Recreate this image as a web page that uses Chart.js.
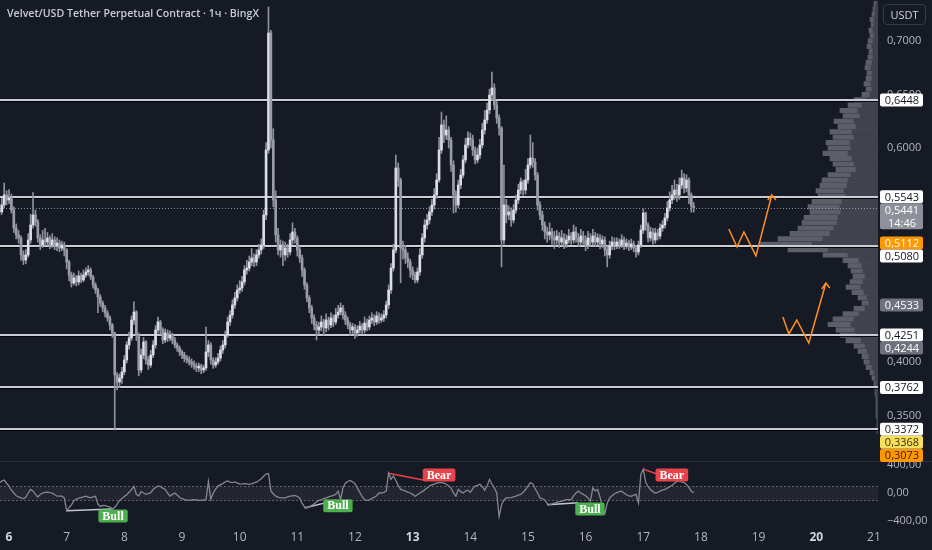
<!DOCTYPE html>
<html lang="ru">
<head>
<meta charset="utf-8">
<title>Velvet/USD Tether Perpetual Contract · 1ч · BingX</title>
<script src="https://cdn.jsdelivr.net/npm/chart.js@4.4.1/dist/chart.umd.min.js"></script>
<style>
  html, body { margin: 0; padding: 0; background: #161a25; }
  #wrap { position: relative; width: 932px; height: 550px; overflow: hidden; background: #161a25; }
  canvas { position: absolute; }
  #profile { left: 740px; top: 0; z-index: 1; }
  #osc { left: 0; top: 450px; z-index: 2; }
  #price { left: 0; top: 0; z-index: 3; }
  #title { position: absolute; left: 7px; top: 6px; z-index: 4; font: 600 10.6px 'Open Sans', sans-serif; color: #c9ccd4; white-space: nowrap; }
  #unit { position: absolute; left: 883px; top: 4px; width: 41px; height: 19px; border: 1px solid #363a45; border-radius: 4px;
          color: #d1d4dc; font: 11px 'Open Sans', sans-serif; line-height: 19px; text-align: center; z-index: 4; }
</style>
</head>
<body>
<div id="wrap">
  <canvas id="profile" width="138" height="462"></canvas>
  <canvas id="osc" width="932" height="100"></canvas>
  <canvas id="price" width="932" height="462"></canvas>
  <div id="title">Velvet/USD Tether Perpetual Contract · 1ч · BingX</div>
  <div id="unit">USDT</div>
</div>
<script>
Chart.defaults.font.family = "'Open Sans', 'DejaVu Sans', sans-serif";
Chart.defaults.animation = false;

// hourly candles, hour 0 = day 6 00:00
const firstHour = -4;
const firstOpen = 0.5420;
const closes = [
  .5402,.5467,.5561,.5514,.5533,.5420,.5252,.5187,.5159,.5000,.4953,.5000,
  .5140,.5280,.5374,.5308,.5159,.5093,.5140,.5121,.5159,.5093,.5140,.5084,
  .5112,.5065,.5093,.5047,.4934,.4813,.4738,.4785,.4748,.4804,.4766,.4813,
  .4841,.4860,.4794,.4719,.4673,.4607,.4551,.4505,.4458,.4411,.4346,.4271,
  .3879,.3813,.3850,.3907,.4019,.4159,.4224,.4392,.4467,.4252,.3925,.4065,
  .4187,.4019,.3972,.4065,.4159,.4299,.4374,.4299,.4205,.4271,.4224,.4252,
  .4205,.4159,.4131,.4093,.4065,.4037,.4019,.4000,.3981,.3962,.3944,.3962,
  .3925,.3944,.4093,.4159,.4019,.3972,.4000,.4037,.4112,.4159,.4252,.4374,
  .4439,.4533,.4598,.4673,.4691,.4748,.4860,.4878,.4934,.4972,.4934,.5000,
  .5047,.5093,.5374,.5981,.7075,.6075,.5514,.5187,.5047,.5093,.5000,.5065,
  .5028,.5140,.5215,.5159,.5047,.4972,.4860,.4719,.4598,.4505,.4411,.4346,
  .4299,.4327,.4374,.4318,.4392,.4346,.4411,.4374,.4439,.4467,.4505,.4439,
  .4392,.4346,.4299,.4327,.4271,.4299,.4336,.4299,.4364,.4327,.4392,.4411,
  .4374,.4430,.4392,.4411,.4439,.4533,.4673,.4878,.5047,.5813,.5700,.5065,
  .5047,.4972,.4934,.4860,.4813,.4766,.4841,.5000,.5159,.5280,.5327,.5402,
  .5467,.5561,.5701,.5981,.6215,.6121,.6168,.6075,.5841,.5561,.5467,.5654,
  .5747,.5888,.6028,.6093,.6075,.5981,.5888,.5934,.6028,.6168,.6262,.6355,
  .6495,.6561,.6402,.6280,.6187,.5140,.5467,.5374,.5402,.5327,.5420,.5514,
  .5607,.5682,.5607,.5701,.5841,.5906,.5869,.5747,.5467,.5374,.5280,.5215,
  .5187,.5215,.5159,.5140,.5177,.5121,.5159,.5103,.5140,.5177,.5140,.5215,
  .5159,.5121,.5177,.5140,.5093,.5159,.5121,.5177,.5121,.5159,.5103,.5140,
  .5047,.5000,.5084,.5121,.5084,.5121,.5093,.5140,.5084,.5112,.5075,.5103,
  .5065,.5028,.5093,.5233,.5392,.5280,.5159,.5215,.5140,.5205,.5177,.5252,
  .5280,.5346,.5439,.5514,.5561,.5607,.5561,.5654,.5719,.5626,.5701,.5561,
  .5458,.5441
];
const highs = [
  .5480,.5530,.5673,.5600,.5610,.5570,.5450,.5290,.5230,.5180,.5040,.5050,
  .5200,.5380,.5584,.5420,.5330,.5190,.5230,.5250,.5210,.5180,.5200,.5170,
  .5160,.5140,.5130,.5120,.5060,.4950,.4840,.4830,.4810,.4850,.4830,.4860,
  .4880,.4900,.4880,.4810,.4740,.4690,.4630,.4570,.4530,.4480,.4430,.4360,
  .4280,.3900,.3890,.3950,.4060,.4190,.4280,.4430,.4561,.4480,.4270,.4120,
  .4230,.4200,.4050,.4110,.4200,.4340,.4420,.4390,.4320,.4310,.4300,.4290,
  .4270,.4230,.4180,.4150,.4110,.4090,.4060,.4050,.4030,.4010,.3990,.3990,
  .3980,.3970,.4327,.4200,.4180,.4040,.4040,.4080,.4150,.4200,.4290,.4420,
  .4480,.4580,.4650,.4720,.4760,.4800,.4900,.4950,.4990,.5060,.5010,.5050,
  .5100,.5150,.5420,.6050,.7318,.7100,.6180,.5600,.5250,.5140,.5130,.5120,
  .5100,.5200,.5300,.5250,.5180,.5080,.5000,.4880,.4740,.4620,.4530,.4440,
  .4380,.4370,.4430,.4400,.4450,.4420,.4460,.4440,.4500,.4530,.4551,.4530,
  .4470,.4420,.4370,.4360,.4350,.4340,.4380,.4360,.4420,.4400,.4430,.4460,
  .4440,.4470,.4460,.4450,.4480,.4570,.4720,.4920,.5100,.5934,.5860,.5720,
  .5130,.5090,.5020,.4960,.4890,.4840,.4880,.5060,.5200,.5330,.5380,.5450,
  .5520,.5620,.5760,.6100,.6336,.6260,.6300,.6200,.6100,.5880,.5600,.5700,
  .5800,.5930,.6090,.6150,.6140,.6120,.6010,.6000,.6080,.6230,.6350,.6420,
  .6550,.6710,.6600,.6440,.6310,.6200,.5841,.5520,.5460,.5440,.5470,.5560,
  .5660,.5720,.5700,.5800,.5900,.6121,.6050,.5900,.5770,.5500,.5410,.5310,
  .5260,.5300,.5250,.5220,.5230,.5210,.5230,.5200,.5190,.5240,.5210,.5280,
  .5260,.5200,.5240,.5220,.5180,.5220,.5200,.5240,.5210,.5200,.5190,.5180,
  .5170,.5080,.5130,.5170,.5160,.5160,.5150,.5190,.5170,.5150,.5140,.5150,
  .5130,.5090,.5130,.5280,.5430,.5400,.5300,.5260,.5250,.5250,.5240,.5290,
  .5320,.5390,.5500,.5590,.5650,.5700,.5660,.5720,.5794,.5760,.5750,.5720,
  .5580,.5490
];
const lows = [
  .5360,.5380,.5440,.5470,.5480,.5390,.5210,.5150,.5110,.4950,.4910,.4920,
  .4980,.5110,.5250,.5270,.5120,.5050,.5070,.5090,.5090,.5060,.5070,.5050,
  .5040,.5030,.5040,.4990,.4870,.4760,.4700,.4720,.4710,.4720,.4740,.4750,
  .4790,.4810,.4770,.4690,.4640,.4460,.4520,.4470,.4420,.4380,.4300,.4230,
  .3364,.3738,.3760,.3800,.3880,.3990,.4120,.4200,.4350,.4200,.3870,.3900,
  .4030,.3980,.3930,.3950,.4040,.4130,.4270,.4260,.4170,.4180,.4190,.4200,
  .4170,.4130,.4100,.4060,.4030,.4000,.3990,.3970,.3950,.3930,.3910,.3910,
  .3890,.3900,.3920,.4050,.3980,.3940,.3950,.3980,.4010,.4080,.4130,.4230,
  .4340,.4410,.4500,.4570,.4640,.4660,.4720,.4820,.4850,.4900,.4890,.4900,
  .4970,.5010,.5060,.5330,.5950,.6000,.5450,.5120,.5000,.4980,.4900,.4950,
  .4980,.5000,.5100,.5110,.4990,.4930,.4800,.4680,.4560,.4460,.4360,.4300,
  .4205,.4260,.4290,.4250,.4280,.4300,.4320,.4330,.4350,.4410,.4440,.4400,
  .4350,.4310,.4250,.4260,.4220,.4240,.4270,.4260,.4270,.4290,.4300,.4360,
  .4340,.4350,.4360,.4370,.4380,.4410,.4500,.4640,.4850,.5020,.5640,.4740,
  .4960,.4920,.4880,.4790,.4770,.4738,.4740,.4810,.4970,.5120,.5240,.5290,
  .5370,.5430,.5530,.5680,.5950,.6050,.6080,.6000,.5780,.5392,.5400,.5440,
  .5620,.5720,.5860,.6000,.6020,.5930,.5850,.5860,.5900,.6000,.6130,.6230,
  .6320,.6450,.6360,.6230,.6120,.4888,.5100,.5300,.5330,.5270,.5300,.5390,
  .5480,.5570,.5560,.5570,.5670,.5810,.5820,.5700,.5420,.5330,.5230,.5150,
  .5120,.5140,.5100,.5060,.5100,.5070,.5090,.5060,.5070,.5110,.5100,.5110,
  .5120,.5080,.5090,.5100,.5040,.5060,.5080,.5090,.5080,.5090,.5060,.5070,
  .4990,.4888,.4970,.5050,.5050,.5060,.5060,.5070,.5050,.5060,.5040,.5050,
  .5030,.4980,.5000,.5070,.5200,.5230,.5120,.5130,.5100,.5110,.5140,.5150,
  .5220,.5250,.5320,.5410,.5480,.5520,.5500,.5520,.5620,.5580,.5590,.5480,
  .5400,.5400
];
const oscValues = [
  150,170,186,140,99,40,0,-40,-55,-70,-80,-60,
  0,51,26,-20,-58,-20,0,8,12,5,0,-25,
  -46,-46,-46,-70,-255,-210,-170,-110,-90,-75,-65,-55,
  -46,-60,-68,-55,-46,-160,-192,-178,-180,-192,-200,-230,
  -205,-160,-105,-80,-50,-25,10,50,95,-20,-40,20,
  0,-20,-10,5,50,78,99,95,70,51,0,-46,
  -20,0,-30,-65,-80,-95,-100,-105,-100,-95,-100,-105,
  -105,-100,-95,167,-90,0,55,99,120,135,160,172,
  155,150,160,145,128,130,133,130,125,130,145,155,
  180,205,240,272,280,30,-10,-46,-60,-70,-70,-70,
  -55,-46,-40,-35,-50,-70,-150,-200,-211,-195,-180,-155,
  -130,-105,-95,-80,-70,-55,-46,-35,-20,26,-95,75,
  140,165,181,160,133,70,10,-50,-100,-105,-98,-80,
  -60,-40,0,0,10,26,284,196,245,180,110,51,
  40,26,12,0,-20,-46,-25,0,20,45,70,100,
  115,128,140,150,150,140,125,100,70,0,-46,51,
  20,0,26,40,10,60,99,110,125,90,40,100,
  196,125,75,0,-337,-170,-100,-70,-70,-65,-55,-45,
  -30,-20,10,50,99,150,130,60,0,-70,-85,-100,
  -150,-165,-155,-145,-135,-125,-120,-105,-95,-95,-95,-40,
  0,26,0,-20,-40,-70,-120,75,30,51,-60,-200,
  -300,-145,-70,-40,-10,5,20,26,0,-25,-40,-46,
  -30,-20,-145,269,342,153,90,51,20,0,10,26,
  40,51,70,90,110,140,165,172,160,150,120,80,
  26,5
];

const dayTicks = [6, 7, 8, 9, 10, 11, 12, 13, 14, 15, 16, 17, 18, 19, 20, 21];
const boldDays = [6, 13, 20];
const priceTicks = [0.70, 0.65, 0.60, 0.40, 0.35];
const oscTicks = [-400, 0, 400];
const oscBand = [-100, 100];
const levels = [0.6448, 0.5543, 0.5080, 0.4251, 0.3762, 0.3372];
const lastPrice = 0.5441;
const lastTime = '14:46';

// volume profile bins, 0.735 down to 0.335
const profileTop = 0.735;
const profileStep = 0.005;
const profileTotal = [
  4,5,6,8,7,9,8,10,11,9, 10,12,13,11,12,14,12,16,24,30,
  38,35,44,40,48,45,52,50,55,48, 45,42,50,56,58,62,60,66,70,68,
  74,76,80,88,100,118,90,55,35,30, 27,25,28,32,26,20,16,24,35,45,
  50,42,38,32,24,20,16,14,12,8, 6,4,3,3,2,2,2,2,1,1,1
];
const profileUp = [
  2,3,3,4,4,5,4,5,6,5, 5,6,7,6,6,7,6,8,12,16,
  20,18,24,22,26,24,28,27,30,26, 24,22,27,30,31,34,32,36,38,37,
  40,41,44,48,55,66,50,30,19,16, 15,13,15,17,14,11,9,13,19,24,
  27,23,21,17,13,11,9,8,6,4, 3,2,2,2,1,1,1,1,1,1,1
];

// hand-drawn scenarios [hour, price]
const scenarioA = [[299.6, 0.5243], [303.0, 0.5075], [305.9, 0.5215], [310.9, 0.4991], [317.5, 0.5561]];
const arrowA = [[315.8, 0.5514], [317.5, 0.5561], [319.2, 0.5514]];
const scenarioB = [[322.1, 0.4420], [324.6, 0.4262], [327.9, 0.4392], [332.9, 0.4177], [340.0, 0.4738]];
const arrowB = [[338.3, 0.4682], [340.0, 0.4738], [341.6, 0.4692]];

const divergences = [
  {kind: 'bull', from: [24, -255], to: [43, -230], label: [43.3, -330]},
  {kind: 'bull', from: [123, -215], to: [132, -138], label: [136.9, -182]},
  {kind: 'bear', from: [158, 284], to: [173, 182], label: [179, 258]},
  {kind: 'bull', from: [224, -167], to: [237, -138], label: [241.8, -229]},
  {kind: 'bear', from: [264, 342], to: [270, 269], label: [275.9, 258]}
];

const axisMarks = [
  {v: 0.6448, kind: 'level'}, {v: 0.5543, kind: 'level'}, {v: 0.5441, kind: 'last'},
  {v: 0.5112, kind: 'poc'}, {v: 0.5080, kind: 'level'}, {v: 0.4533, kind: 'va'},
  {v: 0.4251, kind: 'level'}, {v: 0.4244, kind: 'va'}, {v: 0.3762, kind: 'level'},
  {v: 0.3372, kind: 'level'}, {v: 0.3368, kind: 'low'}, {v: 0.3073, kind: 'min'}
];
const markStyle = {
  level: {bg: '#ffffff', fg: '#131722'},
  last: {bg: '#8e9199', fg: '#ffffff'},
  poc: {bg: '#ff9800', fg: '#ffffff'},
  va: {bg: '#6f727d', fg: '#ffffff'},
  low: {bg: '#f6df5e', fg: '#3a3000'},
  min: {bg: '#ff9800', fg: '#3a2000'}
};

const xMin = -3.75, xMax = 361.7;
const priceMin = 0.3065, priceMax = 0.7383;
const oscMin = -444, oscMax = 444;

const fmtPrice = v => v.toFixed(4).replace('.', ',');
const fmtOsc = v => (v < 0 ? '\u2212' : '') + Math.abs(v).toFixed(2).replace('.', ',');
const pts = arr => arr.map(p => ({x: p[0], y: p[1]}));

const hours = closes.map((c, i) => firstHour + i);
const opens = closes.map((c, i) => i === 0 ? firstOpen : closes[i - 1]);

function roundRect(ctx, x, y, w, h, r) {
  ctx.beginPath();
  ctx.moveTo(x + r, y);
  ctx.arcTo(x + w, y, x + w, y + h, r);
  ctx.arcTo(x + w, y + h, x, y + h, r);
  ctx.arcTo(x, y + h, x, y, r);
  ctx.arcTo(x, y, x + w, y, r);
  ctx.closePath();
}

const priceDecor = {
  id: 'priceDecor',
  beforeDatasetsDraw(chart) {
    const {ctx, chartArea: a, scales: {y}} = chart;
    ctx.save();
    levels.forEach(v => {
      const py = Math.round(y.getPixelForValue(v));
      ctx.fillStyle = 'rgba(0,0,0,0.85)';
      ctx.fillRect(a.left, py + 1, a.right - a.left, 1);
      ctx.fillStyle = '#c9ccd3';
      ctx.fillRect(a.left, py - 1, a.right - a.left, 2);
    });
    const ly = Math.round(y.getPixelForValue(lastPrice)) + 0.5;
    ctx.strokeStyle = 'rgba(178,181,190,0.75)';
    ctx.lineWidth = 1;
    ctx.setLineDash([1, 2]);
    ctx.beginPath();
    ctx.moveTo(a.left, ly);
    ctx.lineTo(a.right, ly);
    ctx.stroke();
    ctx.restore();
  },
  afterDraw(chart) {
    const {ctx, chartArea: a, scales: {y}} = chart;
    const rowH = 13;
    const marks = axisMarks.map(m => ({...m, py: y.getPixelForValue(m.v)})).sort((p, q) => p.py - q.py);
    let prevBottom = -Infinity;
    marks.forEach(m => {
      const rows = m.kind === 'last' ? 2 : 1;
      let top = Math.max(m.py - rowH / 2, prevBottom);
      top = Math.min(top, a.bottom - rowH * rows);
      m.top = top;
      m.rows = rows;
      prevBottom = top + rowH * rows;
    });
    ctx.save();
    ctx.font = "11px 'Open Sans', sans-serif";
    ctx.textAlign = 'center';
    ctx.textBaseline = 'middle';
    marks.forEach(m => {
      const st = markStyle[m.kind];
      ctx.fillStyle = st.bg;
      roundRect(ctx, a.right + 2, m.top, 43, rowH * m.rows, 2);
      ctx.fill();
      ctx.fillStyle = st.fg;
      ctx.fillText(fmtPrice(m.v), a.right + 24, m.top + rowH / 2 + 0.5);
      if (m.rows === 2) ctx.fillText(lastTime, a.right + 24, m.top + rowH * 1.5 + 0.5);
    });
    ctx.restore();
  }
};

const orange = '#ff8f1f';
const lineDs = (data, color, width) => ({
  type: 'line', data: pts(data), borderColor: color, borderWidth: width,
  pointRadius: 0, tension: 0, order: 1, clip: false
});

new Chart(document.getElementById('price'), {
  type: 'bar',
  data: {
    datasets: [
      {
        data: hours.map((h, i) => ({x: h, y: [lows[i], highs[i]]})),
        backgroundColor: '#8f929b', barThickness: 1, grouped: false, order: 3
      },
      {
        data: hours.map((h, i) => ({x: h, y: [opens[i], closes[i]]})),
        backgroundColor: closes.map((c, i) => c >= opens[i] ? '#dcdee5' : '#9a9da6'),
        barThickness: 2, grouped: false, minBarLength: 1, order: 2
      },
      lineDs(scenarioA, orange, 1.5),
      lineDs(arrowA, orange, 1.5),
      lineDs(scenarioB, orange, 1.5),
      lineDs(arrowB, orange, 1.5)
    ]
  },
  options: {
    responsive: false,
    events: [],
    layout: {padding: 0},
    plugins: {legend: {display: false}, tooltip: {enabled: false}},
    scales: {
      x: {type: 'linear', min: xMin, max: xMax, offset: false, display: false},
      y: {
        type: 'linear', position: 'right', min: priceMin, max: priceMax,
        grid: {display: false, drawTicks: false}, border: {display: false},
        afterBuildTicks: s => { s.ticks = priceTicks.map(v => ({value: v})); },
        afterFit: s => { s.width = 54; s.paddingTop = 0; s.paddingBottom = 0; },
        ticks: {padding: 9, color: '#b2b5be', font: {size: 11}, callback: v => fmtPrice(v)}
      }
    }
  },
  plugins: [priceDecor]
});

const profileBins = profileTotal.map((v, i) => +(profileTop - i * profileStep).toFixed(4));
new Chart(document.getElementById('profile'), {
  type: 'bar',
  data: {
    datasets: [
      {data: profileBins.map((p, i) => ({x: profileUp[i], y: p})), backgroundColor: '#40434e', barThickness: 4.5, grouped: false},
      {data: profileBins.map((p, i) => ({x: profileTotal[i], y: p})), backgroundColor: '#5c5f6a', barThickness: 4.5, grouped: false}
    ]
  },
  options: {
    indexAxis: 'y',
    responsive: false,
    events: [],
    layout: {padding: 0},
    plugins: {legend: {display: false}, tooltip: {enabled: false}},
    scales: {
      x: {type: 'linear', min: 0, max: 138, reverse: true, display: false},
      y: {type: 'linear', min: priceMin, max: priceMax, offset: false, display: false}
    }
  }
});

const oscDecor = {
  id: 'oscDecor',
  beforeDatasetsDraw(chart) {
    const {ctx, chartArea: a, scales: {y}} = chart;
    const t = Math.round(y.getPixelForValue(oscBand[1])) + 0.5;
    const b = Math.round(y.getPixelForValue(oscBand[0])) + 0.5;
    ctx.save();
    ctx.fillStyle = '#2a2e39';
    ctx.fillRect(0, a.top - 1, chart.width, 1);
    ctx.fillStyle = 'rgba(120,123,134,0.13)';
    ctx.fillRect(a.left, t, a.right - a.left, b - t);
    ctx.strokeStyle = 'rgba(120,123,134,0.7)';
    ctx.lineWidth = 1;
    ctx.setLineDash([2, 2]);
    [t, b].forEach(py => {
      ctx.beginPath();
      ctx.moveTo(a.left, py);
      ctx.lineTo(a.right, py);
      ctx.stroke();
    });
    ctx.restore();
  },
  afterDatasetsDraw(chart) {
    const {ctx, scales: {x, y}} = chart;
    ctx.save();
    ctx.font = "bold 12px 'Liberation Serif', serif";
    ctx.textAlign = 'center';
    ctx.textBaseline = 'middle';
    divergences.forEach(d => {
      const cx = x.getPixelForValue(d.label[0]);
      const cy = y.getPixelForValue(d.label[1]);
      const text = d.kind === 'bull' ? 'Bull' : 'Bear';
      const w = ctx.measureText(text).width + 8;
      const h = 13;
      ctx.fillStyle = d.kind === 'bull' ? '#4caf50' : '#e8434a';
      roundRect(ctx, cx - w / 2, cy - h / 2, w, h, 2);
      ctx.fill();
      ctx.fillStyle = '#ffffff';
      ctx.fillText(text, cx, cy + 0.5);
    });
    ctx.restore();
  }
};

const dayOf = v => 6 + v / 24;
new Chart(document.getElementById('osc'), {
  type: 'line',
  data: {
    datasets: [
      {
        data: hours.map((h, i) => ({x: h, y: oscValues[i]})),
        borderColor: '#85878f', borderWidth: 1.3, pointRadius: 0, tension: 0
      },
      ...divergences.map(d => ({
        data: pts([d.from, d.to]),
        borderColor: d.kind === 'bull' ? '#c3c6ce' : '#e8434a',
        borderWidth: 1.5, pointRadius: 0
      }))
    ]
  },
  options: {
    responsive: false,
    events: [],
    layout: {padding: {top: 12, left: 0, right: 0, bottom: 0}},
    plugins: {legend: {display: false}, tooltip: {enabled: false}},
    scales: {
      x: {
        type: 'linear', min: xMin, max: xMax, offset: false,
        grid: {display: false, drawTicks: false}, border: {display: false},
        afterBuildTicks: s => { s.ticks = dayTicks.map(d => ({value: (d - 6) * 24})); },
        afterFit: s => { s.height = 26; s.paddingLeft = 0; s.paddingRight = 0; },
        ticks: {
          autoSkip: false, maxRotation: 0, padding: 6,
          callback: v => String(dayOf(v)),
          color: c => (c.tick && boldDays.includes(dayOf(c.tick.value))) ? '#d1d4dc' : '#b2b5be',
          font: c => ({size: 12, weight: (c.tick && boldDays.includes(dayOf(c.tick.value))) ? 'bold' : 'normal'})
        }
      },
      y: {
        type: 'linear', position: 'right', min: oscMin, max: oscMax,
        grid: {display: false, drawTicks: false}, border: {display: false},
        afterBuildTicks: s => { s.ticks = oscTicks.map(v => ({value: v})); },
        afterFit: s => { s.width = 54; s.paddingTop = 0; s.paddingBottom = 0; },
        ticks: {padding: 9, color: '#b2b5be', font: {size: 11}, callback: v => fmtOsc(v)}
      }
    }
  },
  plugins: [oscDecor]
});
</script>
</body>
</html>
